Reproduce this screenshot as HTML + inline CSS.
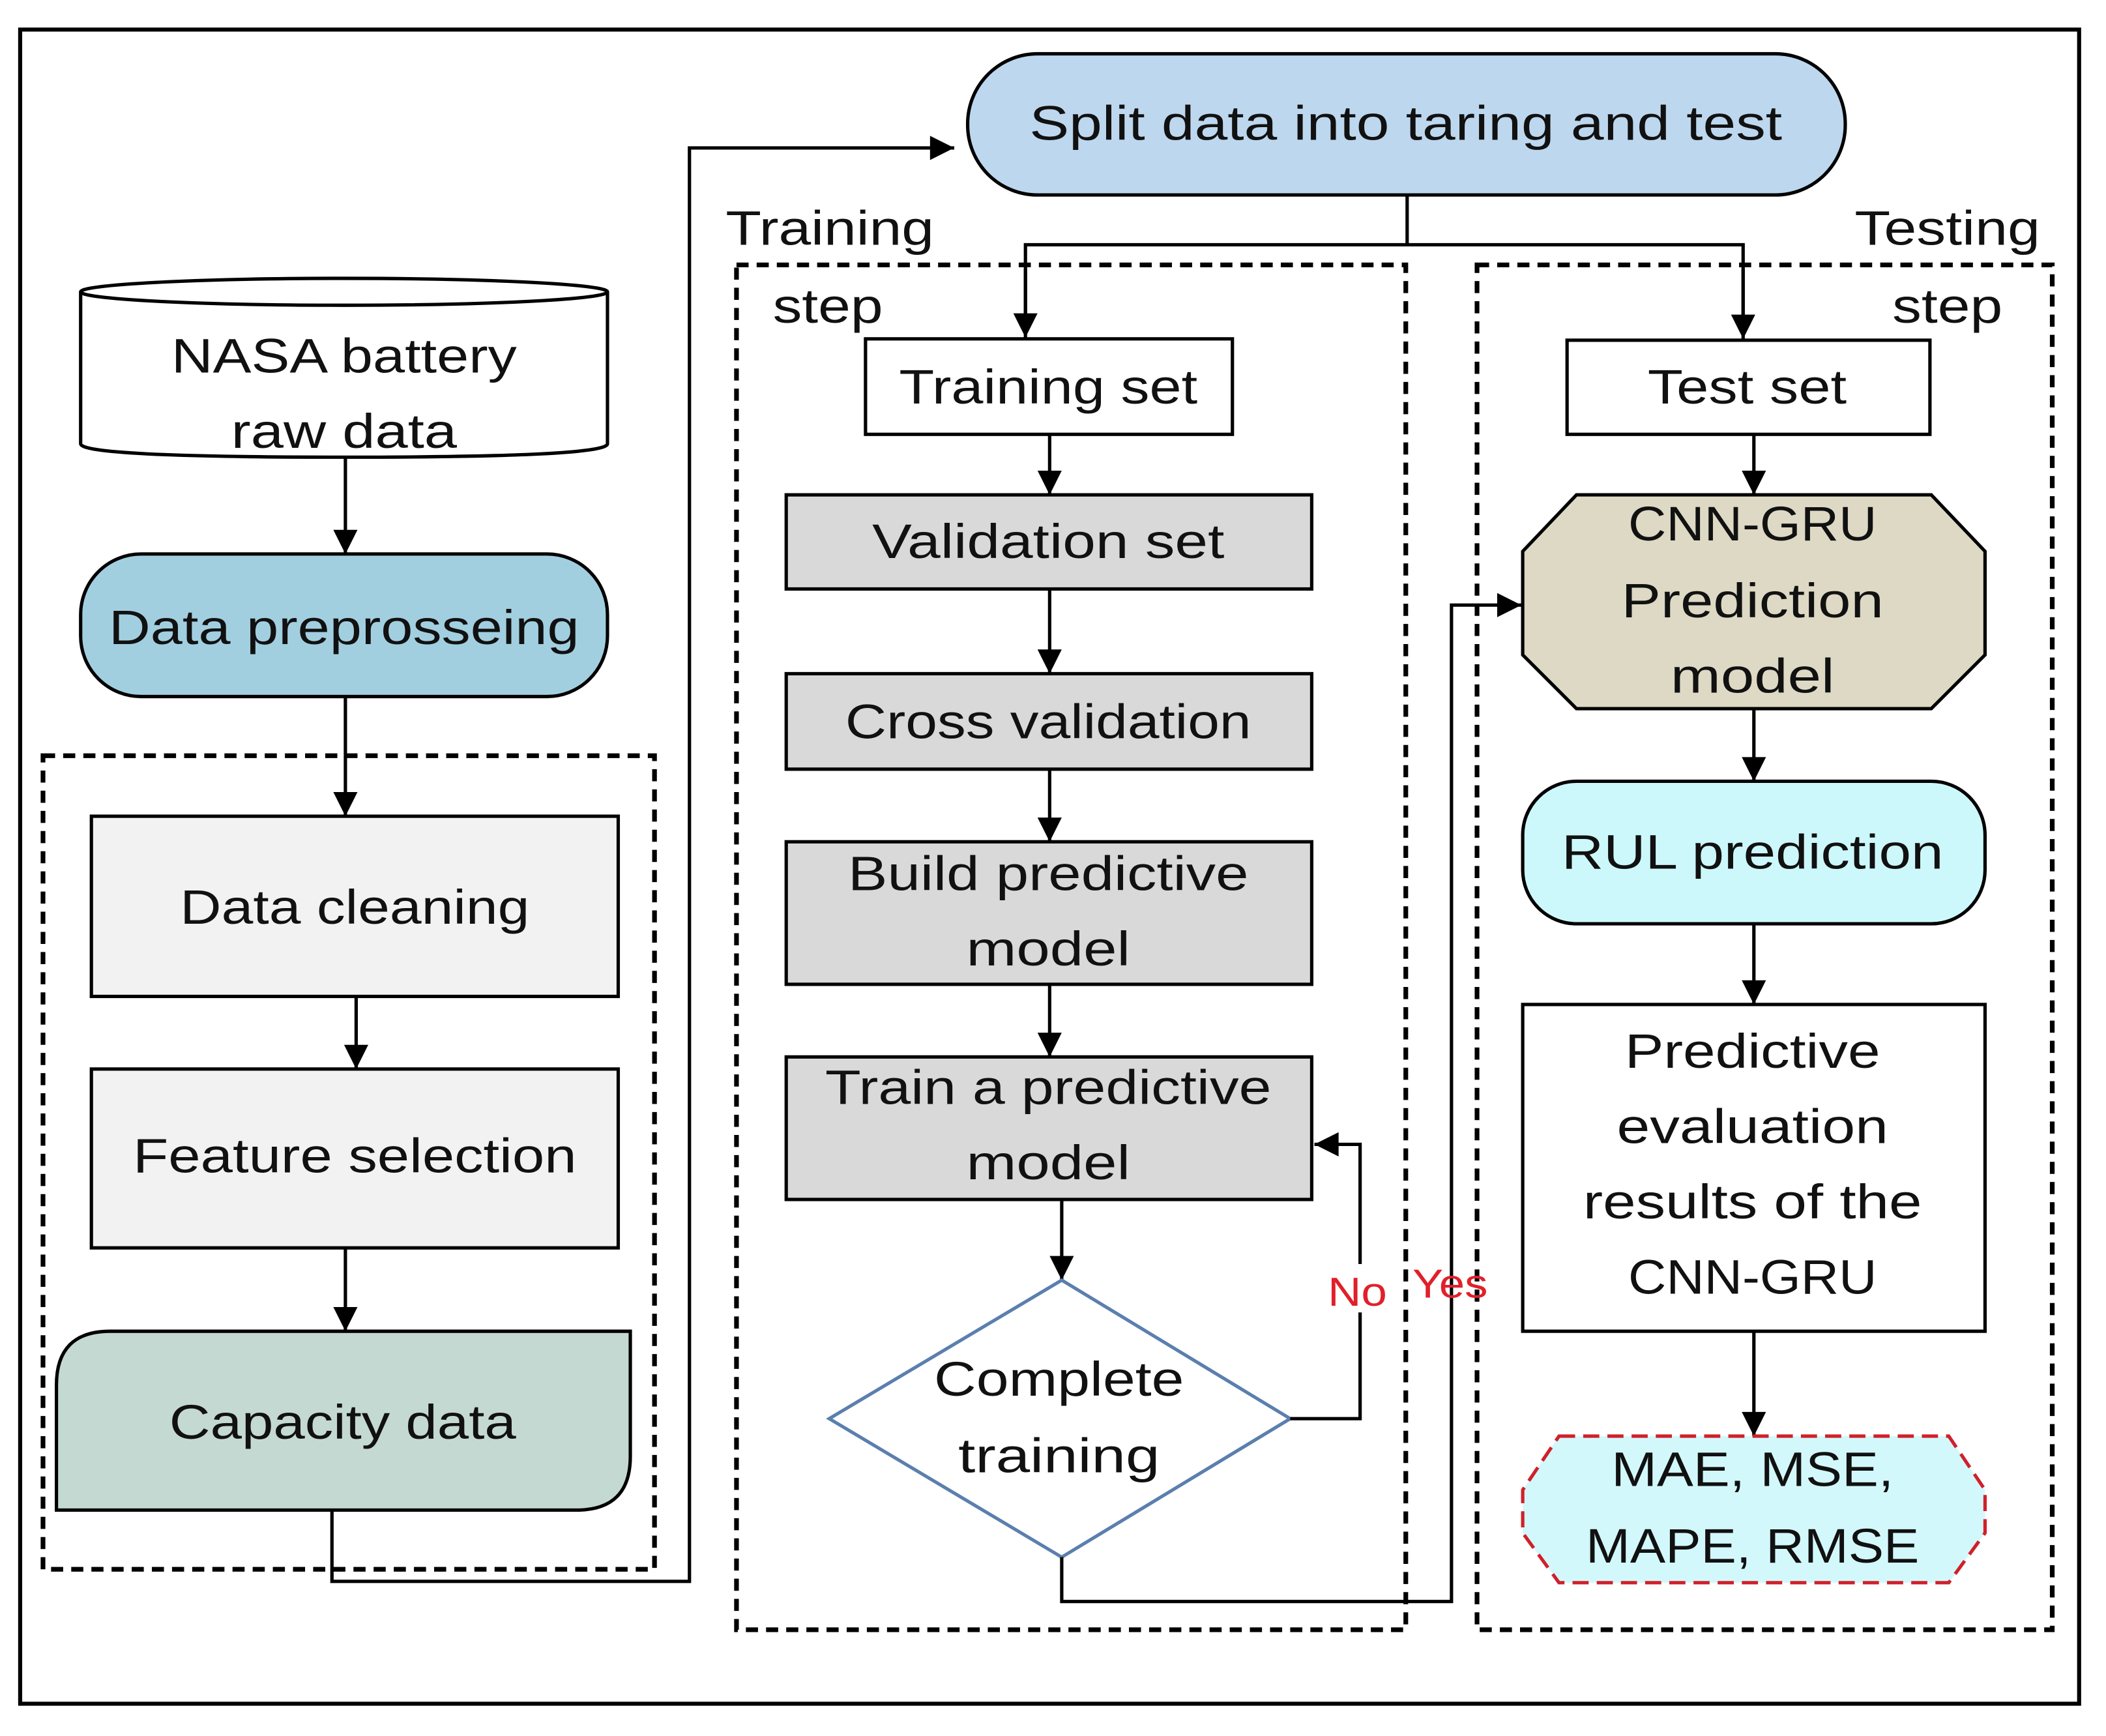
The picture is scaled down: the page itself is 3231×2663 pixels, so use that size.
<!DOCTYPE html>
<html><head><meta charset="utf-8"><style>
html,body{margin:0;padding:0;background:#fff;}
svg{display:block;}
text{font-family:"Liberation Sans",sans-serif;font-size:36px;fill:#111;text-anchor:middle;}
</style></head><body>
<svg width="3231" height="2663" viewBox="0 0 1567 1291" preserveAspectRatio="none" xmlns="http://www.w3.org/2000/svg">
<defs>
<marker id="a" viewBox="0 0 10 10" refX="10" refY="5" markerWidth="20" markerHeight="18" markerUnits="userSpaceOnUse" orient="auto">
<path d="M0,0 L10,5 L0,10 z" fill="#000"/></marker>
</defs>
<style>
.ar{marker-end:url(#a);}
</style>
<rect width="1567" height="1291" fill="#fff"/>
<rect x="15" y="22" width="1532" height="1245" fill="none" stroke="#000" stroke-width="3"/>

<rect x="32" y="562" width="455" height="605" fill="none" stroke="#000" stroke-width="3.5" stroke-dasharray="9,6"/>
<rect x="548" y="197" width="498" height="1015" fill="none" stroke="#000" stroke-width="3.5" stroke-dasharray="9,6"/>
<rect x="1099" y="197" width="428" height="1015" fill="none" stroke="#000" stroke-width="3.5" stroke-dasharray="9,6"/>

<path d="M60,217 L60,330 Q60,340 256,340 Q452,340 452,330 L452,217" fill="#fff" stroke="#000" stroke-width="2.5"/>
<ellipse cx="256" cy="217" rx="196" ry="10" fill="#fff" stroke="#000" stroke-width="2.5"/>
<text x="256" y="277" textLength="257" lengthAdjust="spacingAndGlyphs">NASA battery</text>
<text x="256" y="333" textLength="168" lengthAdjust="spacingAndGlyphs">raw data</text>

<line x1="257" y1="340" x2="257" y2="412" stroke="#000" stroke-width="2.5" class="ar"/>
<rect x="60" y="412" width="392" height="106" rx="45" fill="#a2cfe0" stroke="#000" stroke-width="2.5"/>
<text x="256" y="479" textLength="350" lengthAdjust="spacingAndGlyphs">Data preprosseing</text>

<line x1="257" y1="518" x2="257" y2="607" stroke="#000" stroke-width="2.5" class="ar"/>
<rect x="68" y="607" width="392" height="134" fill="#f2f2f2" stroke="#000" stroke-width="2.5"/>
<text x="264" y="687" textLength="260" lengthAdjust="spacingAndGlyphs">Data cleaning</text>

<line x1="265" y1="741" x2="265" y2="795" stroke="#000" stroke-width="2.5" class="ar"/>
<rect x="68" y="795" width="392" height="133" fill="#f2f2f2" stroke="#000" stroke-width="2.5"/>
<text x="264" y="872" textLength="330" lengthAdjust="spacingAndGlyphs">Feature selection</text>

<line x1="257" y1="928" x2="257" y2="990" stroke="#000" stroke-width="2.5" class="ar"/>
<path d="M82,990 L469,990 L469,1083 Q469,1123 429,1123 L42,1123 L42,1030 Q42,990 82,990 z" fill="#c4d9d2" stroke="#000" stroke-width="2.5"/>
<text x="255" y="1070" textLength="258" lengthAdjust="spacingAndGlyphs">Capacity data</text>

<polyline points="247,1123 247,1176 513,1176 513,110 710,110" fill="none" stroke="#000" stroke-width="2.5" class="ar"/>

<rect x="720" y="40" width="653" height="105" rx="52" fill="#bdd7ee" stroke="#000" stroke-width="2.5"/>
<text x="1046" y="104" textLength="560" lengthAdjust="spacingAndGlyphs">Split data into taring and test</text>
<line x1="1047" y1="145" x2="1047" y2="182" stroke="#000" stroke-width="2.5"/>
<polyline points="763,240 763,182 1297,182 1297,240" fill="none" stroke="#000" stroke-width="2.5"/>
<line x1="763" y1="200" x2="763" y2="251" stroke="#000" stroke-width="2.5" class="ar"/>
<line x1="1297" y1="200" x2="1297" y2="252" stroke="#000" stroke-width="2.5" class="ar"/>

<text x="540" y="182" style="text-anchor:start" textLength="155" lengthAdjust="spacingAndGlyphs">Training</text>
<text x="575" y="240" style="text-anchor:start" textLength="82" lengthAdjust="spacingAndGlyphs">step</text>
<text x="1518" y="182" style="text-anchor:end" textLength="138" lengthAdjust="spacingAndGlyphs">Testing</text>
<text x="1490" y="240" style="text-anchor:end" textLength="82" lengthAdjust="spacingAndGlyphs">step</text>

<rect x="644" y="252" width="273" height="71" fill="#fff" stroke="#000" stroke-width="2.5"/>
<text x="780" y="300" textLength="222" lengthAdjust="spacingAndGlyphs">Training set</text>
<line x1="781" y1="323" x2="781" y2="368" stroke="#000" stroke-width="2.5" class="ar"/>
<rect x="585" y="368" width="391" height="70" fill="#d9d9d9" stroke="#000" stroke-width="2.5"/>
<text x="780" y="415" textLength="262" lengthAdjust="spacingAndGlyphs">Validation set</text>
<line x1="781" y1="438" x2="781" y2="501" stroke="#000" stroke-width="2.5" class="ar"/>
<rect x="585" y="501" width="391" height="71" fill="#d9d9d9" stroke="#000" stroke-width="2.5"/>
<text x="780" y="549" textLength="302" lengthAdjust="spacingAndGlyphs">Cross validation</text>
<line x1="781" y1="572" x2="781" y2="626" stroke="#000" stroke-width="2.5" class="ar"/>
<rect x="585" y="626" width="391" height="106" fill="#d9d9d9" stroke="#000" stroke-width="2.5"/>
<text x="780" y="662" textLength="298" lengthAdjust="spacingAndGlyphs">Build predictive</text>
<text x="780" y="718" textLength="122" lengthAdjust="spacingAndGlyphs">model</text>
<line x1="781" y1="732" x2="781" y2="786" stroke="#000" stroke-width="2.5" class="ar"/>
<rect x="585" y="786" width="391" height="106" fill="#d9d9d9" stroke="#000" stroke-width="2.5"/>
<text x="780" y="821" textLength="332" lengthAdjust="spacingAndGlyphs">Train a predictive</text>
<text x="780" y="877" textLength="122" lengthAdjust="spacingAndGlyphs">model</text>
<line x1="790" y1="892" x2="790" y2="952" stroke="#000" stroke-width="2.5" class="ar"/>
<polygon points="790,952 960,1055 790,1158 617,1055" fill="#fff" stroke="#5b7fae" stroke-width="2.5"/>
<text x="788" y="1038" textLength="186" lengthAdjust="spacingAndGlyphs">Complete</text>
<text x="788" y="1095" textLength="150" lengthAdjust="spacingAndGlyphs">training</text>

<polyline points="960,1055 1012,1055 1012,851 978,851" fill="none" stroke="#000" stroke-width="2.5" class="ar"/>
<rect x="988" y="940" width="46" height="36" fill="#fff"/>
<text x="1010" y="971" style="fill:#e0202a;font-size:30px" textLength="44" lengthAdjust="spacingAndGlyphs">No</text>
<polyline points="790,1158 790,1191 1080,1191 1080,450 1132,450" fill="none" stroke="#000" stroke-width="2.5" class="ar"/>
<text x="1079" y="965" style="fill:#e0202a;font-size:30px" textLength="56" lengthAdjust="spacingAndGlyphs">Yes</text>

<rect x="1166" y="253" width="270" height="70" fill="#fff" stroke="#000" stroke-width="2.5"/>
<text x="1300" y="300" textLength="148" lengthAdjust="spacingAndGlyphs">Test set</text>
<line x1="1305" y1="323" x2="1305" y2="368" stroke="#000" stroke-width="2.5" class="ar"/>
<polygon points="1173,368 1437,368 1477,410 1477,487 1437,527 1173,527 1133,487 1133,410" fill="#ddd9c4" stroke="#000" stroke-width="2.5"/>
<text x="1304" y="402" textLength="185" lengthAdjust="spacingAndGlyphs">CNN-GRU</text>
<text x="1304" y="459" textLength="195" lengthAdjust="spacingAndGlyphs">Prediction</text>
<text x="1304" y="515" textLength="122" lengthAdjust="spacingAndGlyphs">model</text>
<line x1="1305" y1="527" x2="1305" y2="581" stroke="#000" stroke-width="2.5" class="ar"/>
<rect x="1133" y="581" width="344" height="106" rx="40" fill="#cdf8fb" stroke="#000" stroke-width="2.5"/>
<text x="1304" y="646" textLength="284" lengthAdjust="spacingAndGlyphs">RUL prediction</text>
<line x1="1305" y1="687" x2="1305" y2="747" stroke="#000" stroke-width="2.5" class="ar"/>
<rect x="1133" y="747" width="344" height="243" fill="#fff" stroke="#000" stroke-width="2.5"/>
<text x="1304" y="794" textLength="190" lengthAdjust="spacingAndGlyphs">Predictive</text>
<text x="1304" y="850" textLength="202" lengthAdjust="spacingAndGlyphs">evaluation</text>
<text x="1304" y="906" textLength="252" lengthAdjust="spacingAndGlyphs">results of the</text>
<text x="1304" y="962" textLength="185" lengthAdjust="spacingAndGlyphs">CNN-GRU</text>
<line x1="1305" y1="990" x2="1305" y2="1068" stroke="#000" stroke-width="2.5" class="ar"/>
<polygon points="1160,1068 1450,1068 1477,1108 1477,1140 1450,1177 1160,1177 1133,1140 1133,1108" fill="#d3f8fb" stroke="#d0202a" stroke-width="2.5" stroke-dasharray="12,6"/>
<text x="1304" y="1105" textLength="210" lengthAdjust="spacingAndGlyphs">MAE, MSE,</text>
<text x="1304" y="1162" textLength="248" lengthAdjust="spacingAndGlyphs">MAPE, RMSE</text>
</svg>
</body></html>
